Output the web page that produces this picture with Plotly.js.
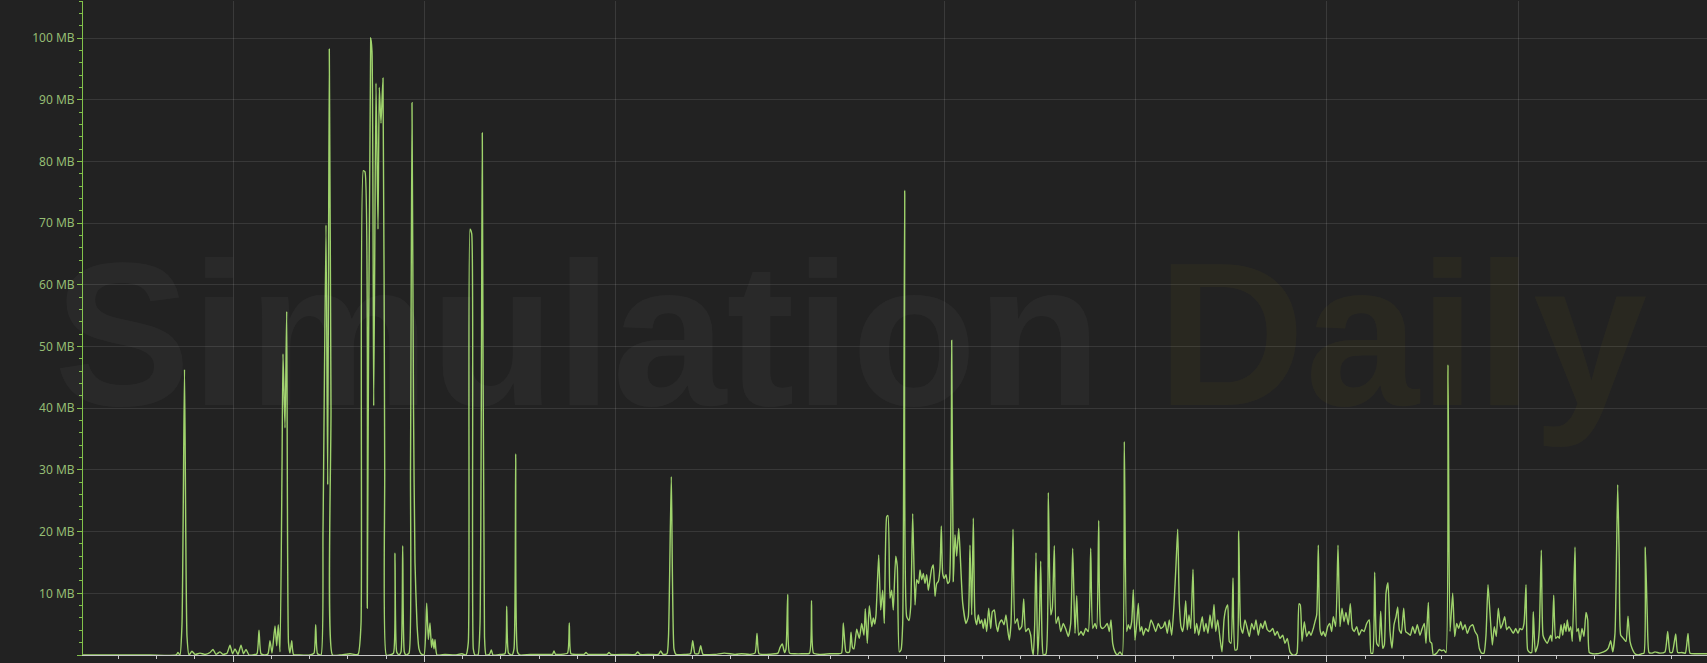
<!DOCTYPE html>
<html>
<head>
<meta charset="utf-8">
<script src="https://cdn.plot.ly/plotly-3.0.1.min.js"></script>
<style>
html,body{margin:0;padding:0;background:#222222;overflow:hidden;}
#chart{width:1707px;height:663px;}
</style>
</head>
<body>
<div id="chart"></div>
<script>
// sample time (arbitrary time units since start) and memory usage (MB)
const time = [
0,67,93,95,97,99,101.5,104,106,109,
112,117,122,127,130,133,137,140,144,147,
149.5,152,155,158,160.5,163,166,170,174,176,
178,182,185,187,189,192,193.7,195.3,197,199,
200,202,203.7,205.5,207,208.7,210.5,217,227,231,
232.7,234.5,238,240,243,244.7,246.3,248,249.5,257,
267,275,278,280.3,282,284.3,287.7,289,290.7,293,
295,296.3,298,300,301.7,303.3,307,310.5,312,313.7,
316,318,319.7,321.3,323,326,327.5,329,330.5,332,
334,336,338,341,343.7,345.3,347,348.5,349.7,351,
352,354,362,372,379,383,385.3,387,388.7,390.3,
392,395,397,399.3,401.5,403,406.5,408.3,410,417,
422,423.7,425.5,429,431,432.7,434.5,437,447,457,
467,469.5,471,472.5,477,484.5,486.3,488,495,501,
503,505,517,524,526,528,542,552.5,554.7,557,
567,575.5,577.7,580,584,585.5,588.3,591,593,602,
607.5,609.7,612,615.5,617.7,620,632,641.3,652,658.7,
667,672,674,676,683,692,695,697,699.3,701.5,
703,704.7,706.5,712,719,726.5,728.5,730.5,737,747,
755,758.5,760.3,761.8,763,765,766.5,768,769.5,771,
773.7,776.3,778.7,781,782.3,784.3,786.3,788.7,790.3,791.7,
793,795.7,797.7,799.7,801.3,803.7,805,807,808.7,810.3,
812.7,814.3,816.3,818,819.7,821.7,823.7,826,827.7,829.7,
832,833.7,835.7,837,838.7,840.3,842,843.7,845.3,847,
848.7,850.3,852,853.7,855.3,857,858.3,859.7,861.3,863,
864.7,866.3,868.7,870.3,872,873.7,875.7,877,879.7,883,
885.3,887,888.7,890.3,892,893.7,895.3,897,898.7,900.3,
902,903.7,905.7,907.7,909.3,911.3,913,914.7,916.3,918.7,
921,923,924.7,926.3,928,930,932,934.3,936.3,938.7,
940.7,942.7,945.3,947.7,949,950.3,951.7,953,954.7,956.3,
957.7,959,960.3,963,965.3,967.7,969.3,971.3,973,975.3,
977.7,980.3,983,985.3,987.7,989.7,992,993.7,995.7,998,
1000.3,1002.7,1005.3,1007.7,1009.7,1012,1013.7,1015.7,1017.7,1019.7,
1022,1024.3,1026.3,1028,1029.7,1032,1034.3,1037,1039.3,1041.3,
1043.7,1045.3,1047,1048.7,1050.3,1052,1053.7,1055.3,1057,1058.7,
1060.3,1062.7,1065.3,1068,1070.3,1072.7,1075.3,1077.7,1080.3,1082,
1084.3,1086.3,1088.7,1091,1093,1094.7,1096.3,1098,1099.7,1101,
1102.7,1104.3,1106,1107.7,1110,1111.7,1113.7,1115.7,1117.7,1119.3,
1121,1123,1125,1127,1129,1131,1132.7,1134.7,1137,1139,
1141,1142.7,1144.7,1146.3,1148,1150,1152,1154,1155.7,1157.7,
1159.7,1162,1164.3,1166.3,1168.7,1171,1173,1175.3,1177.7,1179.7,
1182,1184.3,1187,1189.7,1192,1194.3,1197,1199.7,1202,1204.3,
1207,1209.7,1212,1214,1216,1217.3,1219,1221.3,1223.7,1226,
1228,1230.3,1232,1233.7,1235.3,1237,1238.7,1240.3,1242.3,1244.7,
1246.7,1248.7,1250.3,1252.7,1255,1257,1259,1261,1263,1265.3,
1267.3,1269.3,1271.3,1273.7,1276,1278.7,1281,1283.7,1286.3,1288,
1289.7,1291.7,1293.7,1295.7,1297.7,1299.7,1301.3,1303,1305,1307,
1309,1311,1313,1314.7,1316.3,1318.3,1320.7,1322.7,1325,1327.3,
1329.7,1332,1334.3,1337,1339,1341.3,1343,1345.3,1347,1348.7,
1350.3,1353.7,1356.3,1358.7,1361,1363,1365,1367,1369.7,1371.7,
1373.7,1375.7,1377.7,1379.7,1382,1384.3,1387,1389.7,1392,1394.3,
1396.3,1398.7,1401,1403,1405,1407,1409.3,1411.3,1413.3,1415.3,
1417.7,1419.7,1421.7,1423.7,1426,1428,1430.3,1432.7,1435,1437,
1439,1441,1443,1444.7,1447,1448.7,1450.3,1452.3,1454.7,1456.3,
1458.3,1460,1462,1464.3,1466.3,1467.7,1469,1470.7,1472.7,1474.7,
1476.3,1478,1479.7,1481.3,1483,1484.3,1486,1487.7,1489.3,1492,
1493.7,1495.3,1497,1499,1501,1503,1504.7,1506.3,1509.7,1513.7,
1517,1523,1525.3,1527.7,1529.7,1532,1534.7,1536.3,1537.7,1540.3,
1543,1545,1547,1549,1552,1555.3,1558.7,1561,1562.3,1564.3,
1566,1568.7,1572,1577,1582,1584.7,1587,1589.3,1592.7,1594.7,
1598.7,1602.3,1605,1607,1612,1617,1624
];
const usage = [
0,0,0,0.4,0,5,46.3,3,0,0.6,
0.1,0.3,0.1,0.4,0.9,0.1,0.5,0.1,0.3,1.6,
0.2,1.0,0.1,1.6,0.2,0.9,0,0,0.2,4.0,
0.2,0,0.2,2.3,0.3,4.7,1.5,4.9,0.5,30,
48.8,36.8,55.7,2,0.3,2.3,0.1,0,0,0.3,
4.9,0.2,0,20,69.7,27.6,98.2,40,0,0,
0.2,0.1,5,78.5,78.3,7.6,100,97.8,40.4,92.7,
69,92,86.2,93.5,30,0,0,0.3,16.5,0.5,
0,0.5,17.7,0.5,0,0.3,30,89.5,40,15,
5,1,0.2,0,8.4,2.5,5.2,1.2,2.6,1,
2.5,0,0.1,0,0.2,0,2,69,68.3,1,
0,0,5,84.6,3,0,0.1,0.8,0,0.1,
0.2,7.9,0.3,0,1,32.6,0.5,0,0.1,0.1,
0.1,0.1,0.65,0.1,0.1,0.3,5.2,0.2,0.1,0.1,
0.4,0.1,0.1,0.1,0.4,0.1,0.1,0.1,0.5,0.1,
0.1,0.1,0.65,0.1,0.2,3,28.9,1,0.1,0.1,
0.2,2.3,0.2,0.2,1.5,0.1,0.1,0.3,0.1,0.2,
0.1,0.3,3.5,0.2,0.1,0.2,0.3,1.2,1.8,0.4,
1,9.8,0.3,0.2,0.2,0.3,8.8,0.3,0.1,0.2,
0.2,0.3,5.2,2,0.5,0.4,0.5,3.7,1.2,1.0,
4.2,2.7,5.1,3.2,7.5,1.9,8.0,4.6,6,5,
6.5,16.2,7.3,10.5,5.1,22.4,22.6,9.2,10.5,7.3,
16,14.3,0.5,0.8,5.1,75.3,6.2,5.6,7.8,22.9,
8.1,12.2,11.6,13.8,12.2,13.2,11.6,13,10.5,12.2,
14,14.6,9.5,11.6,11.9,14.1,20.9,13.2,12.4,13,
11.6,11.9,51,11.9,19.5,16,20.5,17,8.4,5.1,
6.2,17.8,6.5,22.2,6.2,4.9,6.5,5.1,5.7,4.3,
5.9,3.8,7.6,4.3,7,7.3,5.1,3.8,5.1,5.7,
4.9,6.5,4.1,2.4,5.1,20.4,5.1,5.9,4.1,4.6,
9.1,3.8,4.3,3.2,1,0,5,16.6,0,5,
15.2,3,0,0.2,26.3,6.5,7.6,17.7,5.1,6.2,
3.8,5.1,4.1,3,5.1,17.3,3.5,9.6,3.2,3.8,
3.2,4.3,3.8,17.3,4.3,5.1,4.3,21.8,4.6,4.3,
4.6,5.1,3.8,5.7,1.9,0.5,0,0.5,0,34.6,
3.8,4.9,4.2,5.4,10.6,2.4,5.1,8.4,3.8,4.6,
3.2,4.3,3.8,5.7,4.9,3.8,5.1,4.3,4.6,5.4,
3.5,5.7,3.2,8.1,14.6,20.4,8.4,4.6,3.8,5.1,
8.8,4.1,6.5,4.3,13.9,3.5,5.1,3.2,4.9,6.2,
3.8,5.1,3.5,6.5,4.3,8.2,3.8,5.7,2.7,0.5,
5.7,7.4,8.1,2.2,1.9,12.5,0.8,0.9,20.1,4.6,
3.5,5.7,4.3,3,5.1,4.1,5.7,3.2,5.1,4.3,
5.5,4.1,3.8,4.3,3.2,3.8,2.7,3.2,1.9,2.7,
0.5,0,0,0.3,8.3,8.1,2.2,5.4,3,3.8,
3.2,4.3,5.4,6.5,17.8,4.1,3.2,3.8,3,4.6,
5.1,3.8,6.2,4.6,17.8,4.6,7.6,5.4,6.9,4.9,
8.3,4.3,3.8,4.6,3.2,4.1,3.8,5.1,5.7,0.3,
0.3,13.4,1.9,1.4,7.1,1.1,1.6,10,11.7,3.8,
1.1,4.9,6.2,7.8,4.1,3.5,7.6,3.8,3.5,3.2,
4.6,3.5,4.9,3.2,4.2,5.1,1.9,8.5,2.2,1.9,
0,0.3,0.9,0.7,0.8,0.4,47,3.8,10,3,
5.1,4.3,5.4,4.1,4.9,3.5,4.6,4.9,3.8,3.2,
1.1,0.3,0.3,3.2,11.4,6.8,1.6,4.6,3,7.6,
4.3,5.1,6.2,4.1,4.6,4.1,3.5,4.3,3.5,4.3,
4.1,5.1,11.4,0.8,0.4,0.4,7,0.5,1.6,4.1,
17,3.2,2.4,1.9,2.7,3.2,2.2,9.7,2.7,3,
2.7,4.9,3.2,5.1,3.8,5.7,3.8,4.6,2.2,17.5,
3.8,4.3,2.2,4.3,3,6.9,5.7,0.4,0.2,0.2,
0.3,0.7,1.1,2.3,0.5,3.5,27.6,14.9,3.2,2.7,
2.2,6.3,2.2,1.1,0.2,0,0.2,0.3,17.5,6.2,
0.4,0.3,0.5,0.3,0.5,3.8,0.4,0.4,3.4,0.4,
0.4,0.3,3.5,0.3,0.2,0.2,0.2
];
const yTickVals = [0,10,20,30,40,50,60,70,80,90,100];
const yTickText = ['0','10 MB','20 MB','30 MB','40 MB','50 MB','60 MB','70 MB','80 MB','90 MB','100 MB'];
const majorTicks = [150,341.3,532.6,861.3,1052.6,1243.9,1435.2];
const minorTicks = [35.2,73.5,111.7,188.3,226.5,264.8,303,379.6,417.9,456.1,494.4,570.9,609.2,647.5,685.7,747,785.3,823.7,899.6,937.9,976.1,1014.4,1090.9,1129.2,1167.4,1205.7,1282.2,1320.5,1358.7,1397,1473.5,1511.8,1550,1588.3];
const watermarkWords = ['Simulation', 'Daily'];

const trace = {
  x: time, y: usage, type: 'scatter', mode: 'lines',
  line: {color: '#9fd36c', width: 1.4, shape: 'spline', smoothing: 0.5},
  hoverinfo: 'skip'
};

const wmFont = {family: 'Liberation Sans, Arial, sans-serif', size: 205, weight: 'bold'};

const layout = {
  width: 1707, height: 663,
  margin: {l: 83, r: 0, t: 1, b: 8, pad: 0},
  paper_bgcolor: '#222222', plot_bgcolor: '#222222',
  showlegend: false,
  xaxis: {
    range: [0, 1624], showline: true, linecolor: '#c8c8c8', linewidth: 1,
    tickmode: 'array', tickvals: majorTicks, showticklabels: false,
    ticks: 'outside', ticklen: 6, tickcolor: '#c8c8c8', tickwidth: 1,
    showgrid: true, gridcolor: 'rgba(255,255,255,0.11)', gridwidth: 1,
    zeroline: false,
    minor: {tickmode: 'array', tickvals: minorTicks, ticks: 'outside', ticklen: 3, tickcolor: '#c8c8c8', tickwidth: 1, showgrid: false}
  },
  yaxis: {
    range: [0, 106], showline: true, linecolor: '#82c24a', linewidth: 1,
    tickmode: 'array', tickvals: yTickVals, ticktext: yTickText,
    ticks: 'outside', ticklen: 5, tickcolor: '#82c24a', tickwidth: 1,
    tickfont: {family: 'Noto Sans, Open Sans, sans-serif', size: 12, color: '#95bd73'},
    showgrid: true, gridcolor: 'rgba(255,255,255,0.1)', gridwidth: 1,
    zeroline: false,
    minor: {dtick: 2, ticks: 'outside', ticklen: 3, tickcolor: '#82c24a', tickwidth: 1, showgrid: false}
  },
  annotations: [{
    xref: 'paper', yref: 'paper', x: -0.019, y: 0.491,
    xanchor: 'left', yanchor: 'middle', showarrow: false,
    text: watermarkWords[0],
    font: Object.assign({color: 'rgba(255,255,255,0.035)'}, wmFont)
  }, {
    xref: 'paper', yref: 'paper', x: 0.66, y: 0.491,
    xanchor: 'left', yanchor: 'middle', showarrow: false,
    text: watermarkWords[1],
    font: Object.assign({color: 'rgba(255,215,0,0.035)'}, wmFont)
  }]
};

Plotly.newPlot('chart', [trace], layout, {displayModeBar: false, staticPlot: true});
</script>
</body>
</html>
